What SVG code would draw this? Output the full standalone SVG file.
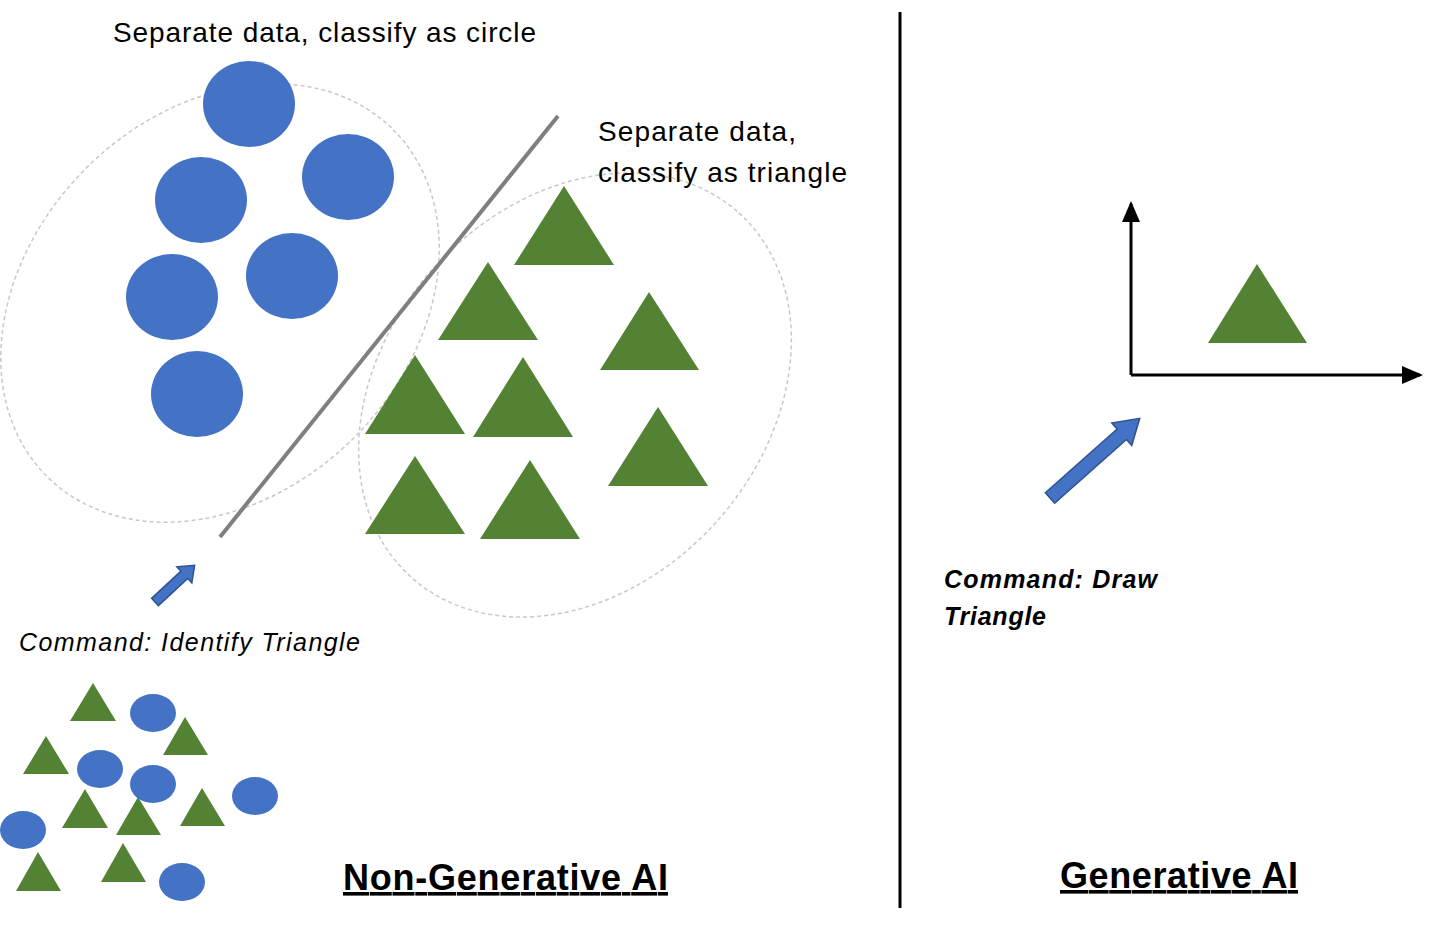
<svg xmlns="http://www.w3.org/2000/svg" width="1456" height="927" viewBox="0 0 1456 927">
<style>
.c{fill:#4472c4}
.t{fill:#548235}
.d{fill:none;stroke:#c8c8c8;stroke-width:1.5;stroke-dasharray:4 3}
.txt{font-family:"Liberation Sans","Open Sans",sans-serif;fill:#000}
.arr{fill:#4472c4;stroke:#2f528f;stroke-width:1.5}
</style>
<defs>
<marker id="ah" markerWidth="8" markerHeight="8" refX="6" refY="4" orient="auto" markerUnits="strokeWidth"><path d="M0,1 L7,4 L0,7 z" fill="#000"/></marker>
</defs>
<rect width="1456" height="927" fill="#fff"/>
<g id="ellipses">
<ellipse class="d" cx="220" cy="303" rx="245" ry="190" transform="rotate(-45 220 303)"/>
<ellipse class="d" cx="575" cy="395" rx="245" ry="190" transform="rotate(-48 575 395)"/>
</g>
<line x1="220" y1="537" x2="558" y2="116" stroke="#7f7f7f" stroke-width="4"/>
<g id="circles">
<ellipse class="c" cx="249" cy="104" rx="46" ry="43"/>
<ellipse class="c" cx="348" cy="177" rx="46" ry="43"/>
<ellipse class="c" cx="201" cy="200" rx="46" ry="43"/>
<ellipse class="c" cx="292" cy="276" rx="46" ry="43"/>
<ellipse class="c" cx="172" cy="297" rx="46" ry="43"/>
<ellipse class="c" cx="197" cy="394" rx="46" ry="43"/>
</g>
<g id="triangles">
<polygon class="t" points="564,186 614,265 514,265"/>
<polygon class="t" points="488,262 538,340 438,340"/>
<polygon class="t" points="649,292 699,370 600,370"/>
<polygon class="t" points="415,355 465,434 365,434"/>
<polygon class="t" points="523,357 573,437 473,437"/>
<polygon class="t" points="658,407 708,486 608,486"/>
<polygon class="t" points="415,456 465,534 365,534"/>
<polygon class="t" points="530,460 580,539 480,539"/>
</g>
<g id="cluster">
<polygon class="t" points="93,683 116,721 70,721"/>
<polygon class="t" points="185,717 208,755 163,755"/>
<polygon class="t" points="46,736 69,774 23,774"/>
<polygon class="t" points="85,789 108,828 62,828"/>
<polygon class="t" points="138,797 161,835 116,835"/>
<polygon class="t" points="202,788 225,826 180,826"/>
<polygon class="t" points="38,852 61,891 16,891"/>
<polygon class="t" points="123,843 146,882 101,882"/>
<ellipse class="c" cx="153" cy="713" rx="23" ry="19"/>
<ellipse class="c" cx="100" cy="769" rx="23" ry="19"/>
<ellipse class="c" cx="153" cy="784" rx="23" ry="19"/>
<ellipse class="c" cx="255" cy="796" rx="23" ry="19"/>
<ellipse class="c" cx="23" cy="830" rx="23" ry="19"/>
<ellipse class="c" cx="182" cy="882" rx="23" ry="19"/>
</g>
<g id="connectors">
<polygon class="arr" points="0,-5 40,-5 40,-11 54,0 40,11 40,5 0,5" transform="translate(155,602) rotate(-42.8)"/>
<polygon class="arr" points="0,-7 96,-7 96,-15 120,0 96,15 96,7 0,7" transform="translate(1050,498) rotate(-41.6)"/>
<line x1="1131" y1="375" x2="1131" y2="204" stroke="#000" stroke-width="3" marker-end="url(#ah)"/>
<line x1="1131" y1="375" x2="1420" y2="375" stroke="#000" stroke-width="3" marker-end="url(#ah)"/>
</g>
<polygon class="t" points="1257,264 1307,343 1208,343"/>
<line x1="900" y1="12" x2="900" y2="908" stroke="#000" stroke-width="3"/>
<g id="labels" class="txt">
<text class="txt" x="113" y="42" font-size="28" textLength="423">Separate data, classify as circle</text>
<text class="txt" x="598" y="141" font-size="28" textLength="198">Separate data,</text>
<text class="txt" x="598" y="182" font-size="28" textLength="249">classify as triangle</text>
<text class="txt" x="19" y="651" font-size="25" font-style="italic" textLength="341">Command: Identify Triangle</text>
<text class="txt" x="944" y="588" font-size="25" font-style="italic" font-weight="bold" textLength="213">Command: Draw</text>
<text class="txt" x="944" y="625" font-size="25" font-style="italic" font-weight="bold" textLength="102">Triangle</text>
<text class="txt" x="343" y="890" font-size="36" font-weight="bold" text-decoration="underline" textLength="325">Non-Generative AI</text>
<text class="txt" x="1060" y="888" font-size="36" font-weight="bold" text-decoration="underline" textLength="238">Generative AI</text>
</g>
</svg>
